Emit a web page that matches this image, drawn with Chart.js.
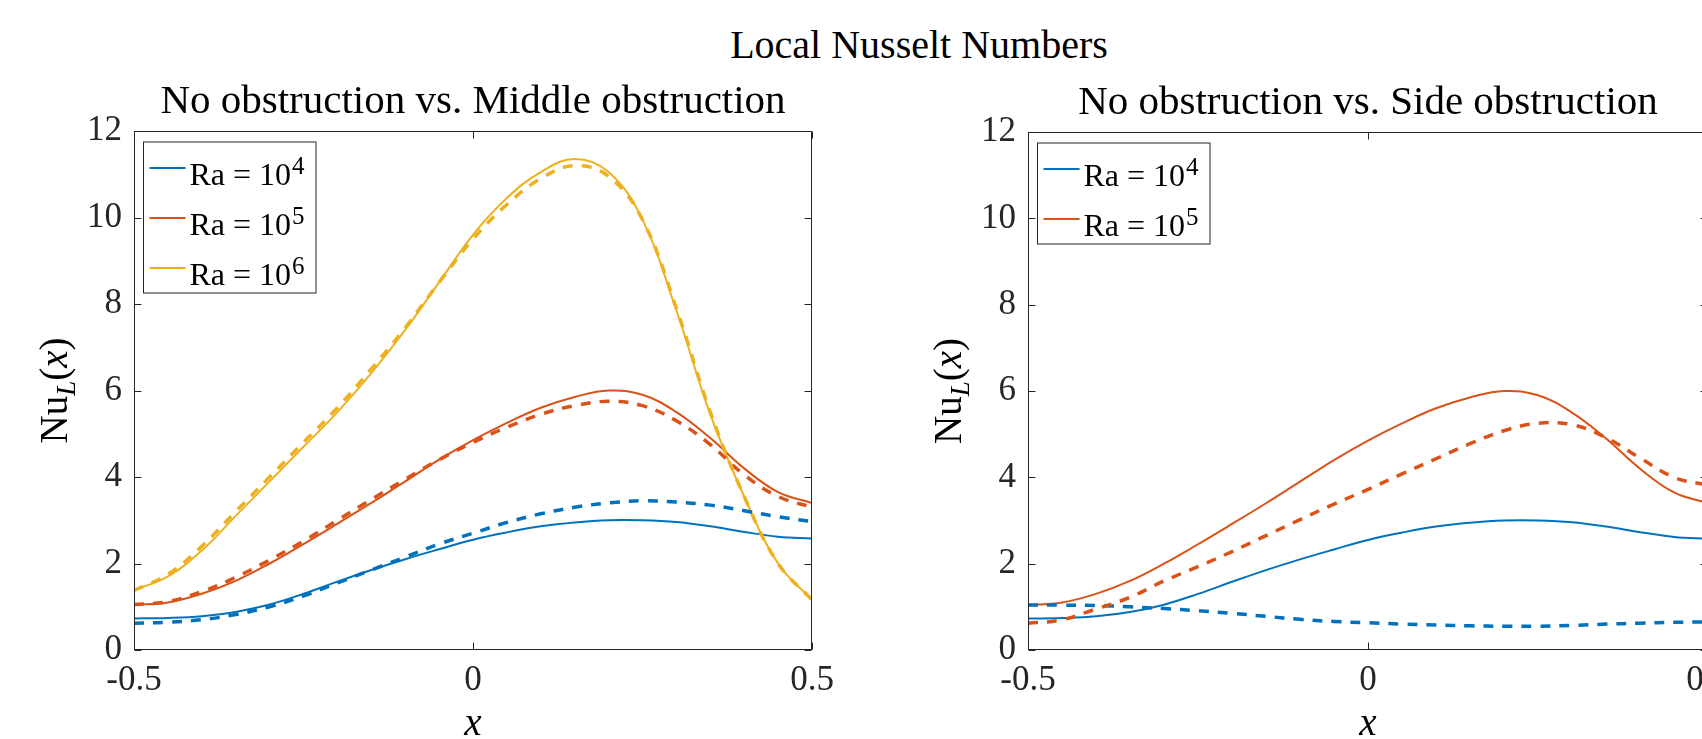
<!DOCTYPE html>
<html>
<head>
<meta charset="utf-8">
<script src="https://cdn.jsdelivr.net/npm/chart.js@4.4.1/dist/chart.umd.min.js"></script>
<style>
  html, body { margin: 0; padding: 0; background: #fff; width: 1702px; height: 739px; overflow: hidden; }
  #main { position: absolute; left: 419px; width: 1000px; top: 21px; line-height: 48px; text-align: center;
          font-family: 'Liberation Serif', serif; font-size: 40px; color: #000; }
  canvas { position: absolute; top: 0; }
  #left { left: 0; }
  #right { left: 894px; }
</style>
</head>
<body>
<div id="main">Local Nusselt Numbers</div>
<canvas id="left" width="880" height="739"></canvas>
<canvas id="right" width="900" height="739"></canvas>
<script>
// x positions along the wall
const xs = [-0.5, -0.45, -0.4, -0.35, -0.3, -0.25, -0.2, -0.15, -0.1, -0.05, 0,
            0.05, 0.1, 0.15, 0.2, 0.25, 0.3, 0.35, 0.4, 0.45, 0.5];

// no obstruction (solid)
const noObsRa4 = [0.73, 0.74, 0.78, 0.88, 1.05, 1.3, 1.58, 1.85, 2.1, 2.33, 2.55,
                  2.72, 2.86, 2.95, 3.0, 3.0, 2.96, 2.86, 2.73, 2.62, 2.58];
const noObsRa5 = [1.04, 1.1, 1.3, 1.6, 2.0, 2.45, 2.92, 3.4, 3.9, 4.4, 4.85,
                  5.25, 5.6, 5.85, 6.0, 5.9, 5.5, 4.9, 4.2, 3.65, 3.4];
const noObsRa6 = [1.38, 1.7, 2.3, 3.1, 3.9, 4.7, 5.5, 6.4, 7.4, 8.5, 9.6,
                  10.45, 11.05, 11.35, 11.05, 9.95, 7.85, 5.45, 3.55, 2.0, 1.16];

// middle obstruction (dashed)
const midObsRa4 = [0.62, 0.64, 0.7, 0.82, 1.0, 1.25, 1.55, 1.85, 2.15, 2.45, 2.7,
                   2.95, 3.15, 3.3, 3.4, 3.45, 3.42, 3.35, 3.22, 3.08, 2.97];
const midObsRa5 = [1.05, 1.12, 1.35, 1.68, 2.08, 2.52, 3.0, 3.48, 3.95, 4.4, 4.8,
                   5.15, 5.45, 5.65, 5.75, 5.65, 5.3, 4.75, 4.05, 3.55, 3.3];
const midObsRa6 = [1.38, 1.75, 2.4, 3.2, 4.0, 4.8, 5.6, 6.5, 7.45, 8.5, 9.5,
                   10.3, 10.9, 11.2, 10.95, 9.95, 7.9, 5.5, 3.55, 2.0, 1.16];

// side obstruction (dashed)
const sideObsRa4 = [1.04, 1.04, 1.03, 1.0, 0.96, 0.91, 0.85, 0.78, 0.71, 0.66, 0.63,
                    0.6, 0.58, 0.56, 0.55, 0.55, 0.57, 0.6, 0.62, 0.64, 0.65];
const sideObsRa5 = [0.62, 0.7, 0.95, 1.22, 1.6, 1.93, 2.28, 2.65, 3.02, 3.38, 3.72,
                    4.08, 4.43, 4.78, 5.08, 5.25, 5.22, 4.92, 4.45, 4.0, 3.82];

const xTicks = [-0.5, 0, 0.5];
const legendExps = ['4', '5', '6'];

const BLUE = '#0072BD', ORANGE = '#D95319', YELLOW = '#EDB120';
const SERIF = '"Liberation Serif", "Times New Roman", serif';

function series(values, color, dashed) {
    return {
        data: xs.map((x, i) => ({ x: x, y: values[i] })),
        borderColor: color,
        borderWidth: dashed ? 3.5 : 2,
        borderDash: dashed ? [10, 9] : [],
        pointRadius: 0,
        tension: 0.4,
        fill: false
    };
}

// box around the axes with inward ticks on all four sides
const framePlugin = {
    id: 'frame',
    afterDatasetsDraw(chart) {
        const { ctx, chartArea: a, scales: { x, y } } = chart;
        ctx.save();
        ctx.strokeStyle = '#262626';
        ctx.lineWidth = 1;
        const L = Math.round(a.left) + 0.5, R = Math.round(a.right) - 0.5;
        const T = Math.round(a.top) + 0.5, B = Math.round(a.bottom) - 0.5;
        ctx.strokeRect(L, T, R - L, B - T);
        ctx.beginPath();
        y.ticks.forEach(t => {
            const p = Math.round(y.getPixelForValue(t.value)) + 0.5;
            ctx.moveTo(L, p); ctx.lineTo(L + 7, p);
            ctx.moveTo(R, p); ctx.lineTo(R - 7, p);
        });
        x.ticks.forEach(t => {
            const p = Math.round(x.getPixelForValue(t.value)) + 0.5;
            ctx.moveTo(p, B); ctx.lineTo(p, B - 7);
            ctx.moveTo(p, T); ctx.lineTo(p, T + 7);
        });
        ctx.stroke();
        ctx.restore();
    }
};

// subplot title centred over the axes, and rotated y label Nu_L(x)
const labelsPlugin = {
    id: 'labels',
    afterDraw(chart, args, opts) {
        const { ctx, chartArea: a } = chart;
        ctx.save();
        ctx.fillStyle = '#000';
        ctx.textAlign = 'center';
        ctx.textBaseline = 'alphabetic';
        ctx.font = '41px ' + SERIF;
        ctx.fillText(opts.title, (a.left + a.right) / 2, a.top - 18);

        const parts = [
            { t: 'Nu', f: '39px ' + SERIF, dy: 0 },
            { t: 'L', f: 'italic 27px ' + SERIF, dy: 8 },
            { t: '(', f: '39px ' + SERIF, dy: 0 },
            { t: 'x', f: 'italic 39px ' + SERIF, dy: 0 },
            { t: ')', f: '39px ' + SERIF, dy: 0 }
        ];
        ctx.translate(a.left - 80, (a.top + a.bottom) / 2);
        ctx.rotate(-Math.PI / 2);
        ctx.textAlign = 'left';
        let total = 0;
        parts.forEach(p => { ctx.font = p.f; p.w = ctx.measureText(p.t).width; total += p.w; });
        let cx = -total / 2;
        parts.forEach(p => {
            ctx.font = p.f;
            ctx.fillText(p.t, cx, 13 + p.dy);
            cx += p.w;
        });
        ctx.restore();
    }
};

// legend box in the upper-left corner
const legendPlugin = {
    id: 'boxLegend',
    afterDraw(chart, args, opts) {
        const { ctx, chartArea: a } = chart;
        const n = opts.colors.length;
        const left = a.left + 9.5, top = a.top + 11, right = a.left + 182;
        const bottom = top + 26 + 50 * (n - 1) + 25;
        ctx.save();
        ctx.fillStyle = '#fff';
        ctx.fillRect(left, top, right - left, bottom - top);
        ctx.strokeStyle = '#262626';
        ctx.lineWidth = 1;
        ctx.strokeRect(left, top, right - left, bottom - top);
        opts.colors.forEach((c, i) => {
            const ry = top + 26 + 50 * i;
            ctx.strokeStyle = c;
            ctx.lineWidth = 2;
            ctx.beginPath();
            ctx.moveTo(left + 6, ry);
            ctx.lineTo(left + 42, ry);
            ctx.stroke();
            ctx.fillStyle = '#000';
            ctx.textAlign = 'left';
            ctx.textBaseline = 'alphabetic';
            ctx.font = '32px ' + SERIF;
            const base = 'Ra = 10';
            ctx.fillText(base, left + 46, ry + 17);
            const w = ctx.measureText(base).width;
            ctx.font = '25px ' + SERIF;
            ctx.fillText(opts.exps[i], left + 47 + w, ry + 6);
        });
        ctx.restore();
    }
};

function makeChart(id, title, datasets, legendColors, padRight, padTop) {
    new Chart(document.getElementById(id).getContext('2d'), {
        type: 'line',
        data: { datasets: datasets },
        options: {
            responsive: false,
            animation: false,
            devicePixelRatio: 1,
            layout: { padding: { left: 0, right: padRight, top: padTop, bottom: 0 } },
            plugins: {
                legend: { display: false },
                tooltip: { enabled: false },
                title: { display: false },
                labels: { title: title },
                boxLegend: { colors: legendColors, exps: legendExps }
            },
            scales: {
                x: {
                    type: 'linear',
                    min: -0.5,
                    max: 0.5,
                    afterBuildTicks: s => { s.ticks = xTicks.map(v => ({ value: v })); },
                    afterFit: s => { s.height = 89; },
                    grid: { display: false, drawTicks: false },
                    border: { display: false },
                    ticks: { font: { family: SERIF, size: 35 }, color: '#262626', padding: 10, maxRotation: 0 },
                    title: {
                        display: true, text: 'x', color: '#000',
                        font: { family: SERIF, size: 39, style: 'italic', lineHeight: 0.6 },
                        padding: { top: 0, bottom: 3 }
                    }
                },
                y: {
                    min: 0,
                    max: 12,
                    afterFit: s => { s.width = 134; },
                    grid: { display: false, drawTicks: false },
                    border: { display: false },
                    ticks: { stepSize: 2, font: { family: SERIF, size: 35 }, color: '#262626', padding: 12 }
                }
            }
        },
        plugins: [framePlugin, labelsPlugin, legendPlugin]
    });
}

// left: no obstruction vs. middle obstruction (dashed drawn on top)
makeChart('left', 'No obstruction vs. Middle obstruction', [
    series(midObsRa6, YELLOW, true),
    series(midObsRa5, ORANGE, true),
    series(midObsRa4, BLUE, true),
    series(noObsRa6, YELLOW, false),
    series(noObsRa5, ORANGE, false),
    series(noObsRa4, BLUE, false)
], [BLUE, ORANGE, YELLOW], 68, 131);

// right: no obstruction vs. side obstruction
makeChart('right', 'No obstruction vs. Side obstruction', [
    series(sideObsRa5, ORANGE, true),
    series(sideObsRa4, BLUE, true),
    series(noObsRa5, ORANGE, false),
    series(noObsRa4, BLUE, false)
], [BLUE, ORANGE], 86, 132);
</script>
</body>
</html>
